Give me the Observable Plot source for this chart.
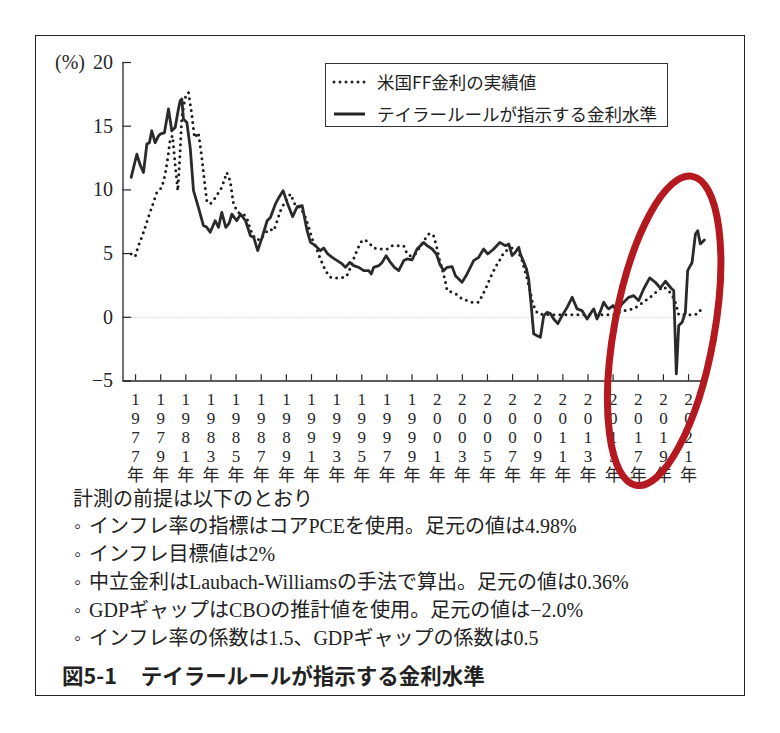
<!DOCTYPE html>
<html><head><meta charset="utf-8">
<script src="https://cdn.jsdelivr.net/npm/d3@7"></script>
<script src="https://cdn.jsdelivr.net/npm/@observablehq/plot@0.6"></script>
<style>
body{margin:0;background:#fff;}
#page{position:relative;width:780px;height:733px;overflow:hidden;background:#fff;color:#222;}
#frame{position:absolute;left:35px;top:35px;width:710px;height:661px;border:1.5px solid #222;box-sizing:border-box;}
#chart{position:absolute;left:0;top:0;}
#legend{position:absolute;left:325px;top:63px;width:343px;height:64px;border:1.2px solid #333;box-sizing:border-box;background:#fff;font-family:"Noto Sans CJK JP",sans-serif;font-size:17.5px;color:#222;}
.lrow{position:absolute;left:0;height:24px;line-height:24px;white-space:nowrap;}
.lrow svg{position:absolute;left:6px;top:0;}
.lrow span{position:absolute;left:51px;top:0;}
.note{position:absolute;left:73px;height:28px;line-height:28px;white-space:nowrap;font-family:"Liberation Serif","Noto Sans CJK JP",serif;font-size:20px;color:#222;}
.bul{display:inline-block;width:15px;}
#title{position:absolute;left:62px;top:661px;height:28px;line-height:28px;white-space:nowrap;font-family:"Noto Sans CJK JP",sans-serif;font-weight:700;font-size:21.5px;color:#222;}
#title .t2{margin-left:24px;}
</style></head>
<body><div id="page">
<div id="frame"></div>
<div id="chart"></div>
<div id="legend"></div>
<div id="notes"></div>
<div id="title"></div>
</div>
<script>
// ---- data ----
const taylorYears = [1976.65,1977.1,1977.35,1977.63,1977.9,1978.1,1978.29,1978.56,1978.8,1978.96,1979.3,1979.62,1979.88,1980.15,1980.4,1980.55,1980.68,1980.81,1981.08,1981.35,1981.61,1982.0,1982.4,1982.67,1982.94,1983.33,1983.6,1983.86,1984.18,1984.45,1984.66,1985.05,1985.35,1985.75,1986.14,1986.4,1986.72,1987.07,1987.47,1987.73,1988.13,1988.4,1988.74,1989.06,1989.5,1989.86,1990.26,1990.65,1990.92,1991.31,1991.71,1991.97,1992.29,1992.64,1993.04,1993.44,1993.7,1994.04,1994.36,1994.76,1995.16,1995.55,1995.75,1995.95,1996.35,1996.62,1996.94,1997.28,1997.6,1997.94,1998.34,1998.61,1999.0,1999.4,1999.93,2000.2,2000.6,2000.94,2001.2,2001.52,2001.79,2002.19,2002.45,2002.98,2003.38,2003.9,2004.3,2004.7,2005.02,2005.5,2005.98,2006.43,2006.7,2006.96,2007.22,2007.49,2007.62,2007.84,2008.1,2008.28,2008.47,2008.68,2008.95,2009.21,2009.48,2009.75,2010.0,2010.27,2010.6,2010.94,2011.34,2011.74,2012.13,2012.53,2012.93,2013.2,2013.46,2013.72,2014.0,2014.25,2014.5,2014.65,2015.0,2015.32,2015.7,2016.24,2016.64,2017.03,2017.43,2017.91,2018.36,2018.76,2019.16,2019.6,2019.82,2020.03,2020.22,2020.49,2020.75,2020.93,2021.28,2021.55,2021.73,2021.94,2022.26];
const taylorValues = [10.98,12.8,12.0,11.37,13.6,13.7,14.64,13.7,14.2,14.38,14.5,16.35,14.64,14.9,16.3,17.0,17.13,15.56,15.3,13.3,9.94,8.63,7.2,7.06,6.67,7.58,7.06,8.24,7.06,7.4,8.1,7.58,8.1,7.58,6.4,6.27,5.23,6.27,7.58,7.84,8.9,9.4,9.94,9.02,7.9,8.68,8.76,6.8,5.88,5.62,5.23,5.44,4.97,4.71,4.45,4.19,3.92,4.31,4.05,3.92,3.66,3.66,3.4,3.92,4.05,4.31,4.84,4.31,3.92,3.66,4.45,4.58,4.5,5.36,5.88,5.62,5.36,4.97,4.19,3.66,3.92,3.97,3.27,2.75,3.4,4.45,4.71,5.36,4.97,5.36,5.88,5.62,5.75,4.84,5.1,5.49,4.97,4.45,3.8,3.0,1.05,-1.3,-1.44,-1.57,0.13,0.39,0.3,-0.13,-0.5,0.13,0.78,1.57,0.66,0.52,-0.13,0.3,0.66,-0.13,0.5,1.18,0.8,0.66,0.92,0.39,1.05,1.57,1.7,1.31,2.22,3.09,2.75,2.3,2.83,2.3,2.1,-4.44,-0.65,-0.39,0.39,3.66,4.3,6.54,6.8,5.76,6.07];

const ffYears = [1976.65,1976.97,1977.23,1977.5,1977.76,1978.0,1978.29,1978.69,1979.09,1979.36,1979.57,1979.76,1979.94,1980.15,1980.36,1980.52,1980.68,1980.95,1981.21,1981.47,1981.69,1982.0,1982.27,1982.48,1982.67,1982.94,1983.33,1983.86,1984.26,1984.53,1984.79,1985.13,1985.59,1985.85,1986.0,1986.28,1986.6,1986.95,1987.3,1987.68,1988.0,1988.27,1988.53,1988.93,1989.33,1989.72,1990.12,1990.52,1990.78,1991.05,1991.31,1991.71,1992.11,1992.51,1992.9,1993.3,1993.78,1994.1,1994.5,1994.9,1995.21,1995.55,1995.95,1996.49,1997.02,1997.42,1997.94,1998.34,1998.61,1998.9,1999.3,1999.67,2000.0,2000.33,2000.68,2000.94,2001.2,2001.47,2001.66,2001.79,2002.19,2002.59,2002.98,2003.38,2003.78,2004.3,2004.58,2004.97,2005.24,2005.63,2006.03,2006.3,2006.69,2007.09,2007.36,2007.76,2008.02,2008.16,2008.42,2008.55,2008.82,2009.08,2010.0,2011.0,2012.0,2013.0,2014.0,2015.0,2015.45,2016.11,2016.59,2017.03,2017.57,2018.1,2018.63,2019.02,2019.42,2019.87,2020.03,2020.22,2021.0,2021.68,2022.2];
const ffValues = [4.97,4.76,5.62,6.3,7.06,7.8,8.63,9.8,10.2,11.25,12.55,14.0,14.25,12.0,9.94,12.55,15.7,17.25,17.65,15.95,14.1,14.5,12.55,10.7,9.15,8.9,9.36,10.2,11.37,10.7,8.9,8.24,8.1,7.84,7.3,6.54,6.1,6.1,6.6,6.93,6.8,7.58,8.37,9.15,9.68,8.76,8.63,7.84,7.06,6.15,5.62,4.58,3.66,3.14,3.09,3.09,3.19,3.92,4.97,5.88,6.1,5.88,5.44,5.36,5.36,5.62,5.62,5.62,4.97,4.8,5.0,5.6,6.1,6.54,6.5,5.62,4.45,3.53,2.75,2.1,1.96,1.78,1.44,1.31,1.18,1.18,1.7,2.49,3.14,3.92,4.58,5.1,5.36,5.49,5.36,4.45,3.53,3.0,1.96,1.31,0.52,0.25,0.2,0.2,0.2,0.2,0.2,0.2,0.39,0.58,0.66,0.92,1.31,1.7,2.15,2.4,2.1,1.44,0.92,0.2,0.2,0.25,0.85];

const xTickYears = [1977,1979,1981,1983,1985,1987,1989,1991,1993,1995,1997,1999,2001,2003,2005,2007,2009,2011,2013,2015,2017,2019,2021];
const yTicks = [-5,0,5,10,15,20];
const yTickLabels = ["−5","0","5","10","15","20"];
const yUnit = "(%)";
const seriesNames = ["米国FF金利の実績値","テイラールールが指示する金利水準"];
const noteHead = "計測の前提は以下のとおり";
const noteItems = [
  "インフレ率の指標はコアPCEを使用。足元の値は4.98%",
  "インフレ目標値は2%",
  "中立金利はLaubach-Williamsの手法で算出。足元の値は0.36%",
  "GDPギャップはCBOの推計値を使用。足元の値は−2.0%",
  "インフレ率の係数は1.5、GDPギャップの係数は0.5"
];
const figNumber = "図5-1";
const figTitle = "テイラールールが指示する金利水準";
// highlight annotation (data coords of its centre)
const highlight = {year: 2019.1, value: -1.1};

// ---- build tables ----
const taylor = taylorYears.map((t, i) => ({t, v: taylorValues[i]}));
const ff = ffYears.map((t, i) => ({t, v: ffValues[i]}));
const yLab = yTicks.map((v, i) => ({v, label: yTickLabels[i]}));

const serif = "Liberation Serif, Noto Sans CJK JP, serif";
const ink = "#262626";

const chart = Plot.plot({
  width: 780, height: 500,
  marginLeft: 122.5, marginRight: 75, marginTop: 62, marginBottom: 119.5,
  x: {domain: [1976, 2022.35], axis: null},
  y: {domain: [-5, 20], axis: null},
  style: {background: "transparent", overflow: "visible"},
  marks: [
    Plot.ruleY([0], {stroke: "#b8b8b8", strokeWidth: 1, strokeDasharray: "1,2"}),
    Plot.ruleY([-5], {stroke: ink, strokeWidth: 1.3}),
    Plot.ruleX([1976], {y1: -5, y2: 20, stroke: ink, strokeWidth: 1.3}),
    Plot.ruleY(yTicks, {y: d => d, x1: 1976, x2: 1976.68, stroke: ink, strokeWidth: 1.2}),
    Plot.ruleX(xTickYears, {x: d => d, y1: -5, y2: -4.5, stroke: ink, strokeWidth: 1.2}),
    Plot.text(yLab, {x: 1976, y: "v", text: "label", textAnchor: "end", dx: -10, fontSize: 20, fontFamily: serif, fill: ink}),
    Plot.text([yUnit], {x: 1976, y: 20, text: d => d, textAnchor: "end", dx: -38, fontSize: 20, fontFamily: serif, fill: ink}),
    Plot.text(xTickYears, {x: d => d, y: -5, text: d => String(d).split("").join("\n") + "\n年", lineAnchor: "top", dy: 11, lineHeight: 1.11, fontSize: 17, fontFamily: serif, fill: ink}),
    Plot.line(ff, {x: "t", y: "v", stroke: "#1e1e1e", strokeWidth: 3, strokeDasharray: "0,6", strokeLinecap: "round"}),
    Plot.line(taylor, {x: "t", y: "v", stroke: "#2a2a2a", strokeWidth: 2.8, strokeLinejoin: "round"})
  ]
});
document.getElementById("chart").appendChild(chart);

// red hand-drawn highlight ellipse, positioned through the plot's scales
const sx = chart.scale("x"), sy = chart.scale("y");
const fx = d3.scaleLinear(sx.domain, sx.range), fy = d3.scaleLinear(sy.domain, sy.range);
d3.select(chart).append("ellipse")
  .attr("cx", 0).attr("cy", 0).attr("rx", 50).attr("ry", 157)
  .attr("transform", `translate(${fx(highlight.year)},${fy(highlight.value)}) rotate(10.3)`)
  .attr("fill", "none").attr("stroke", "#b3191f").attr("stroke-width", 7);

// legend
const leg = d3.select("#legend");
const rows = [{name: seriesNames[0], dash: "0,6", cap: "round", w: 3, top: 6},
              {name: seriesNames[1], dash: null, cap: "butt", w: 3, top: 38}];
rows.forEach(r => {
  const row = leg.append("div").attr("class", "lrow").style("top", r.top + "px");
  const s = row.append("svg").attr("width", 40).attr("height", 24);
  s.append("line").attr("x1", 2).attr("x2", 33).attr("y1", 12).attr("y2", 12)
    .attr("stroke", "#222").attr("stroke-width", r.w).attr("stroke-linecap", r.cap)
    .attr("stroke-dasharray", r.dash);
  row.append("span").text(r.name);
});

// notes
const notes = d3.select("#notes");
const tops = [485, 512, 540, 568, 596, 624];
notes.append("div").attr("class", "note").style("top", tops[0] + "px").text(noteHead);
noteItems.forEach((t, i) => {
  const d = notes.append("div").attr("class", "note").style("top", tops[i + 1] + "px").style("left", "74px");
  d.append("span").attr("class", "bul").text("◦");
  d.append("span").text(t);
});
const title = d3.select("#title");
title.append("span").text(figNumber);
title.append("span").attr("class", "t2").text(figTitle);
</script>
</body></html>
